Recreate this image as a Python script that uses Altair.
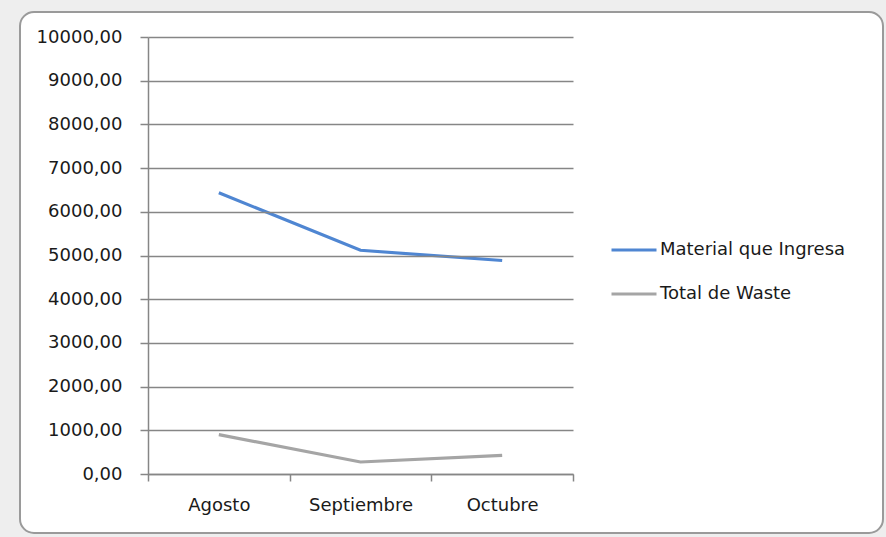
import altair as alt
import pandas as pd

months = ["Agosto", "Septiembre", "Octubre"]
material = [6435, 5120, 4885]
waste = [900, 275, 425]
series_names = ["Material que Ingresa", "Total de Waste"]
colors = ["#4f86d2", "#a5a5a5"]

rows = []
for m, v in zip(months, material):
    rows.append({"Mes": m, "Serie": series_names[0], "Valor": v})
for m, v in zip(months, waste):
    rows.append({"Mes": m, "Serie": series_names[1], "Valor": v})
df = pd.DataFrame(rows)

FONT = "DejaVu Sans"
TXT = "#1a1a1a"
GRID = "#868686"

frame = alt.Chart(pd.DataFrame({"a": [0]})).mark_rect(
    fill="white", stroke="#9a9a9a", strokeWidth=2, cornerRadius=14
).encode(
    x=alt.value(-128), x2=alt.value(735), y=alt.value(-25), y2=alt.value(496)
)

lines = alt.Chart(df).mark_line(strokeWidth=3.2).encode(
    x=alt.X(
        "Mes:N",
        sort=months,
        bandPosition=0.5,
        scale=alt.Scale(type="band", paddingInner=0, paddingOuter=0),
        axis=alt.Axis(
            title=None, labelAngle=0, tickBand="extent", grid=False,
            domainColor=GRID, tickColor=GRID, tickSize=7, labelPadding=15,
            labelFont=FONT, labelFontSize=18, labelColor=TXT, domainWidth=1.5,
            tickWidth=1.5, zindex=1,
        ),
    ),
    y=alt.Y(
        "Valor:Q",
        scale=alt.Scale(domain=[0, 10000], nice=False),
        axis=alt.Axis(
            title=None, values=list(range(0, 10001, 1000)),
            labelExpr="replace(format(datum.value, '.2f'), '.', ',')",
            gridColor=GRID, gridWidth=1.5, domainColor=GRID, domainWidth=1.5,
            tickColor=GRID, tickSize=8, tickWidth=1.5, labelPadding=18,
            labelFont=FONT, labelFontSize=18, labelColor=TXT, zindex=1,
        ),
    ),
    color=alt.Color(
        "Serie:N",
        scale=alt.Scale(domain=series_names, range=colors),
        legend=alt.Legend(
            title=None, orient="none", legendX=462, legendY=189,
            symbolType="stroke", symbolSize=2025, symbolStrokeWidth=3,
            labelFont=FONT, labelFontSize=18, labelColor=TXT,
            rowPadding=11, labelOffset=2, labelLimit=0,
        ),
    ),
)

chart = alt.layer(frame, lines).properties(
    width=425, height=437,
    autosize=alt.AutoSizeParams(type="none"),
    padding={"left": 148, "top": 37, "right": 313, "bottom": 63},
    background="#eeeeee",
).configure_view(stroke=None)

chart.save("out.html", embed_options={"renderer": "svg", "actions": False})
